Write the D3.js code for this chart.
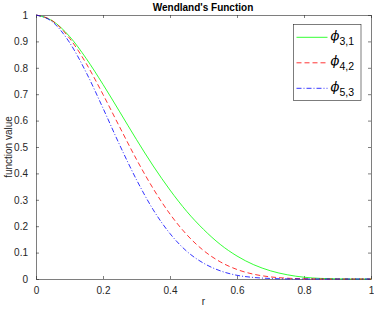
<!DOCTYPE html>
<html>
<head>
<meta charset="utf-8">
<script src="https://cdn.jsdelivr.net/npm/d3@7"></script>
<style>
  body { margin: 0; background: #fff; }
  text { font-family: "Liberation Sans", Arial, sans-serif; }
</style>
</head>
<body>
<svg width="374" height="309"></svg>
<script>
// values
const rValues = [0, 0.05, 0.1, 0.15, 0.2, 0.25, 0.3, 0.35, 0.4, 0.45, 0.5,
  0.55, 0.6, 0.65, 0.7, 0.75, 0.8, 0.85, 0.9, 0.95, 1];
const phi31 = [1, 0.977, 0.919, 0.835, 0.737, 0.633, 0.528, 0.428, 0.337, 0.256, 0.188,
  0.131, 0.087, 0.054, 0.031, 0.016, 0.0067, 0.0022, 0.0005, 0, 0];
const phi42 = [1, 0.977, 0.912, 0.816, 0.699, 0.575, 0.453, 0.342, 0.246, 0.168, 0.108,
  0.065, 0.036, 0.018, 0.008, 0.003, 0.0008, 0.0002, 0, 0, 0];
const phi53 = [1, 0.973, 0.896, 0.782, 0.647, 0.507, 0.376, 0.262, 0.172, 0.105, 0.060,
  0.031, 0.014, 0.0058, 0.002, 0.0005, 0.0001, 0, 0, 0, 0];
const seriesNames = ["3,1", "4,2", "5,3"];
const xTicks = [0, 0.2, 0.4, 0.6, 0.8, 1];
const yTicks = [0, 0.1, 0.2, 0.3, 0.4, 0.5, 0.6, 0.7, 0.8, 0.9, 1];

const size = { width: 374, height: 309, left: 36, right: 3, top: 15, bottom: 30 };
const axisColor = "#262626";

const svg = d3.select("svg");

const x = d3.scaleLinear().domain([0, 1])
  .range([size.left, size.width - size.right]);
const y = d3.scaleLinear().domain([0, 1])
  .range([size.height - size.bottom, size.top]);

const series = [
  { name: seriesNames[0], values: phi31, color: "#00ff00", dash: null },
  { name: seriesNames[1], values: phi42, color: "#ff0000", dash: "5,3" },
  { name: seriesNames[2], values: phi53, color: "#0000ff", dash: "5,2,1,2" },
];

// axes with inward ticks on all four sides
const styleAxis = (g) => {
  g.selectAll("path").attr("stroke", axisColor).attr("stroke-width", 0.6);
  g.selectAll("line").attr("stroke", axisColor).attr("stroke-width", 0.6);
  g.selectAll("text").attr("fill", axisColor).style("font-size", "10px");
};

svg.append("g")
  .attr("transform", "translate(0," + y(0) + ")")
  .call(d3.axisBottom(x).tickValues(xTicks).tickSize(-3).tickPadding(8)
    .tickFormat(d3.format("")).tickSizeOuter(0))
  .call(styleAxis);

svg.append("g")
  .attr("transform", "translate(0," + y(1) + ")")
  .call(d3.axisTop(x).tickValues(xTicks).tickSize(-3).tickFormat("").tickSizeOuter(0))
  .call(styleAxis);

svg.append("g")
  .attr("transform", "translate(" + x(0) + ",0)")
  .call(d3.axisLeft(y).tickValues(yTicks).tickSize(-3).tickPadding(8)
    .tickFormat(d3.format("")).tickSizeOuter(0))
  .call(styleAxis);

svg.append("g")
  .attr("transform", "translate(" + x(1) + ",0)")
  .call(d3.axisRight(y).tickValues(yTicks).tickSize(-3).tickFormat("").tickSizeOuter(0))
  .call(styleAxis);

// curves
const line = d3.line()
  .x((d, i) => x(rValues[i]))
  .y((d) => y(d))
  .curve(d3.curveMonotoneX);

series.forEach((s) => {
  svg.append("path")
    .attr("d", line(s.values))
    .attr("fill", "none")
    .attr("stroke", s.color)
    .attr("stroke-width", 0.8)
    .attr("stroke-dasharray", s.dash);
});

// title and labels
svg.append("text")
  .attr("x", 203).attr("y", 10.5)
  .attr("text-anchor", "middle")
  .style("font-size", "10px").style("font-weight", "bold")
  .attr("fill", "#000")
  .text("Wendland's Function");

svg.append("text")
  .attr("x", (x(0) + x(1)) / 2).attr("y", 305)
  .attr("text-anchor", "middle")
  .style("font-size", "10px")
  .attr("fill", axisColor)
  .text("r");

svg.append("text")
  .attr("transform", "translate(12," + (y(0) + y(1)) / 2 + ") rotate(-90)")
  .attr("text-anchor", "middle")
  .style("font-size", "10px")
  .attr("fill", axisColor)
  .text("function value");

// legend
const legend = svg.append("g").attr("transform", "translate(293.5,24.5)");
legend.append("rect")
  .attr("width", 67.5).attr("height", 76)
  .attr("fill", "#fff").attr("stroke", axisColor).attr("stroke-width", 0.6);

series.forEach((s, i) => {
  const ly = 12.8 + i * 25.5;
  legend.append("line")
    .attr("x1", 3).attr("x2", 34).attr("y1", ly).attr("y2", ly)
    .attr("stroke", s.color).attr("stroke-width", 0.8)
    .attr("stroke-dasharray", s.dash);
  const t = legend.append("text")
    .attr("x", 37).attr("y", ly + 2.5)
    .attr("fill", "#000")
    .style("font-size", "13px");
  t.append("tspan").style("font-family", "DejaVu Serif").style("font-style", "italic").text("ϕ");
  t.append("tspan").attr("dy", 5).style("font-size", "10.5px").text(s.name);
});
</script>
</body>
</html>
